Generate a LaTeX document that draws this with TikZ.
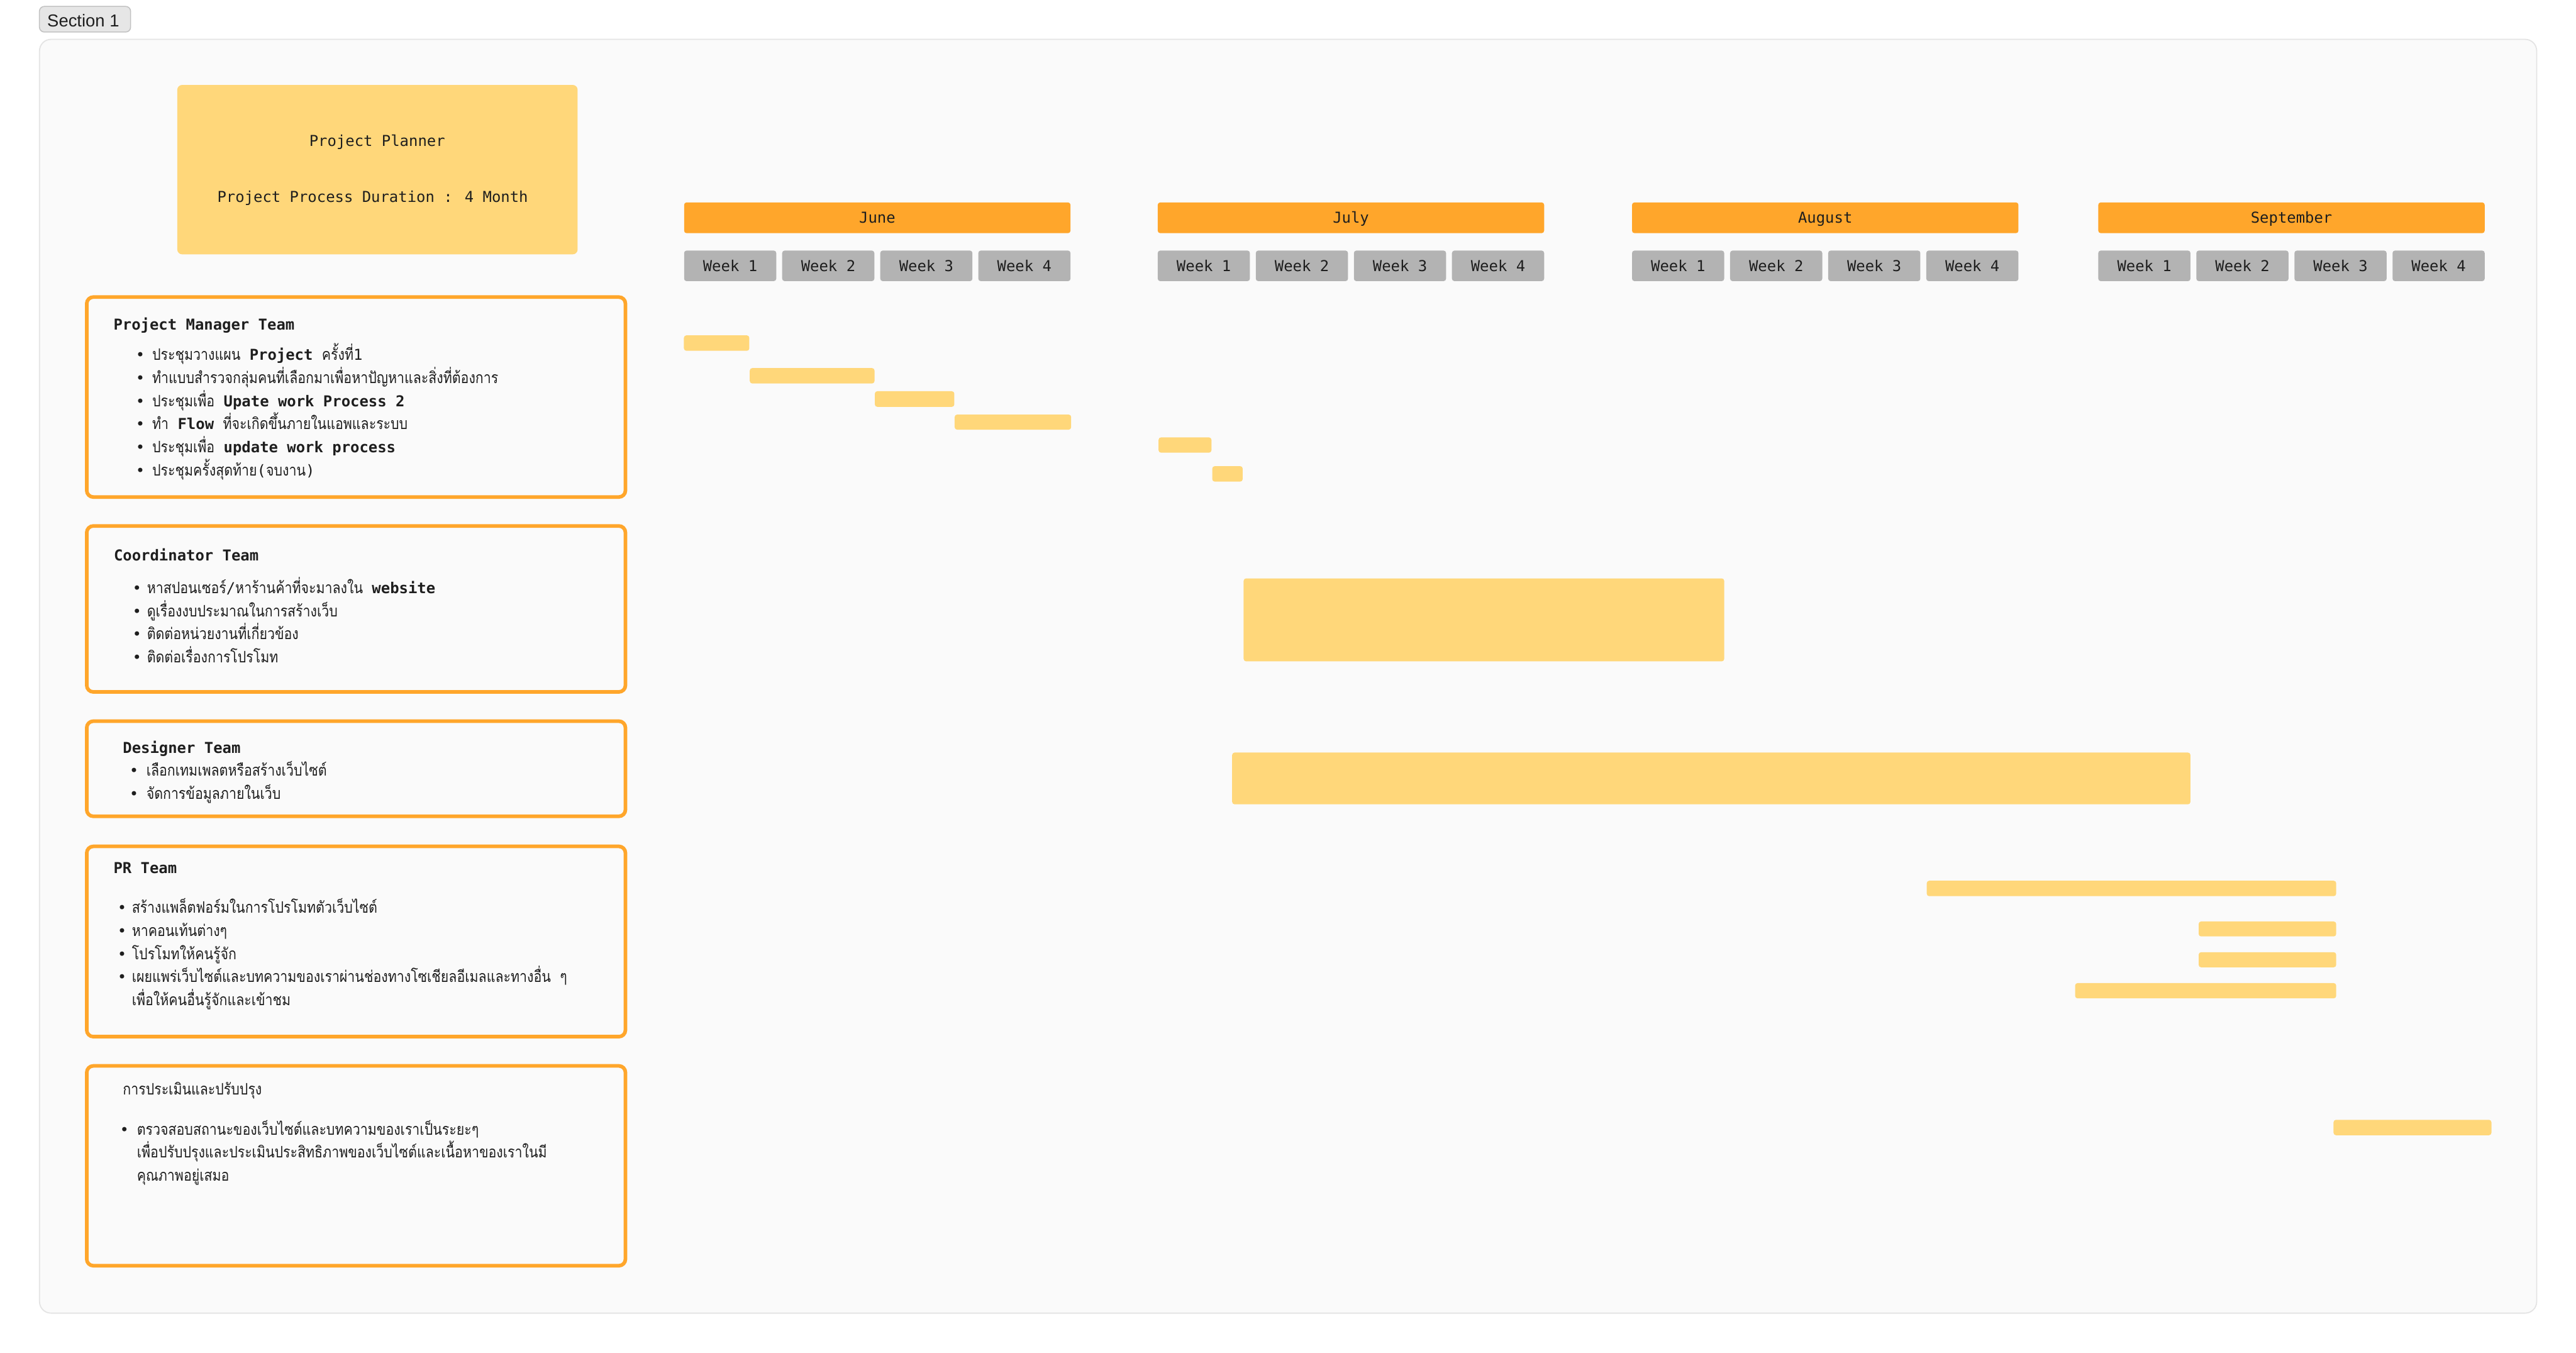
\documentclass[tikz,border=0pt]{standalone}
\usepackage{fontspec}
\setmainfont{DejaVu Sans Mono}
\newfontfamily\thaifont[Script=Thai,Scale=1.05,FakeStretch=0.85]{Loma}
\newfontfamily\tagfont{Liberation Sans}
\newcommand\thtxt[1]{{\thaifont #1}}
\definecolor{ink}{HTML}{1E1E1E}
\definecolor{hdr}{HTML}{FFA62B}
\definecolor{barc}{HTML}{FFD77A}
\definecolor{wk}{HTML}{B3B3B3}
\definecolor{bgc}{HTML}{FAFAFA}
\definecolor{frameline}{HTML}{E4E4E4}
\definecolor{tagfill}{HTML}{E6E6E6}
\definecolor{tagline}{HTML}{C2C2C2}
% one bullet line: name, bullet x, text x, baseline y, text
\newcommand\bitem[5]{%
  \node[dot] (#1-b) at (#2,#4) {•};
  \node[txt] (#1) at (#3,#4) {#5};}
\begin{document}
\begin{tikzpicture}[x=1pt,y=-1pt,
  font=\fontsize{9.15}{11}\selectfont,
  txt/.style={anchor=base west,inner sep=0,text=ink},
  ctxt/.style={anchor=base,inner sep=0,text=ink},
  dot/.style={anchor=base,inner sep=0,text=ink},
  tagbox/.style={draw=tagline,fill=tagfill,line width=0.6pt,rounded corners=3pt,
    minimum width=55.5pt,minimum height=15.6pt,inner sep=0},
  framebox/.style={draw=frameline,fill=bgc,line width=0.7pt,rounded corners=7pt,
    minimum width=1520pt,minimum height=775.2pt,inner sep=0},
  planbox/.style={fill=barc,rounded corners=3pt,minimum width=243.7pt,
    minimum height=103.1pt,inner sep=0},
  teambox/.style={draw=hdr,line width=2.2pt,rounded corners=4pt,
    minimum width=327.9pt,inner sep=0},
  month/.style={fill=hdr,rounded corners=1.5pt,minimum width=235.2pt,
    minimum height=18.7pt,inner sep=0,text=ink,text height=6.6pt,text depth=0pt},
  week/.style={fill=wk,rounded corners=1.5pt,minimum width=56.1pt,
    minimum height=18.6pt,inner sep=0,text=ink,text height=6.6pt,text depth=0pt},
  taskbar/.style={fill=barc,rounded corners=1.5pt}]

\useasboundingbox (0,0) rectangle (1568,823.4);

% section tag and panel
\node[tagbox] (tag) at (51.75,11.7) {};
\node[txt,font=\tagfont\fontsize{10.5}{12}\selectfont] (tagtext) at (28.6,16.3) {Section 1};
\node[framebox] (frame) at (784.05,411.55) {};

% planner card
\node[planbox] (plan) at (229.75,103.25) {};
\node[ctxt] (plantitle) at (229.6,88.9) {Project Planner};
\node[txt] (plandur) at (132.1,122.9) {Project Process Duration : 4 Month};

% month headers and weeks
\foreach \m/\lab [count=\i] in {416.4/June,704.7/July,993.4/August,1277.2/September}{
  \node[month] (m\i) at (\m+117.6,132.55) {\lab};
  \foreach \w in {1,2,3,4}{
    \node[week] (m\i w\w) at (\m+28.05+59.7*\w-59.7,161.8) {Week \w};
  }
}

% team cards
\node[teambox,minimum height=121.7pt] (pm) at (216.75,241.65) {};
\node[teambox,minimum height=101pt] (co) at (216.75,370.6) {};
\node[teambox,minimum height=57.9pt] (de) at (216.75,467.85) {};
\node[teambox,minimum height=115.8pt] (pr) at (216.75,573) {};
\node[teambox,minimum height=121.6pt] (ev) at (216.75,709.5) {};

% project manager team
\node[txt] (pmt) at (68.9,200.6) {\textbf{Project Manager Team}};
\bitem{pm1}{85.4}{92.5}{219.2}{\thtxt{ประชุมวางแผน} \textbf{Project} \thtxt{ครั้งที่}1}
\bitem{pm2}{85.4}{92.5}{233.3}{\thtxt{ทำแบบสำรวจกลุ่มคนที่เลือกมาเพื่อหาปัญหาและสิ่งที่ต้องการ}}
\bitem{pm3}{85.4}{92.5}{247.3}{\thtxt{ประชุมเพื่อ} \textbf{Upate work Process 2}}
\bitem{pm4}{85.4}{92.5}{261.4}{\thtxt{ทำ} \textbf{Flow} \thtxt{ที่จะเกิดขึ้นภายในแอพและระบบ}}
\bitem{pm5}{85.4}{92.5}{275.4}{\thtxt{ประชุมเพื่อ} \textbf{update work process}}
\bitem{pm6}{85.4}{92.5}{289.5}{\thtxt{ประชุมครั้งสุดท้าย}(\thtxt{จบงาน})}

% coordinator team
\node[txt] (cot) at (69.1,341.4) {\textbf{Coordinator Team}};
\bitem{co1}{83.4}{89.3}{361.2}{\thtxt{หาสปอนเซอร์}/\thtxt{หาร้านค้าที่จะมาลงใน} \textbf{website}}
\bitem{co2}{83.4}{89.3}{375.2}{\thtxt{ดูเรื่องงบประมาณในการสร้างเว็บ}}
\bitem{co3}{83.4}{89.3}{389.2}{\thtxt{ติดต่อหน่วยงานที่เกี่ยวข้อง}}
\bitem{co4}{83.4}{89.3}{403.3}{\thtxt{ติดต่อเรื่องการโปรโมท}}

% designer team
\node[txt] (det) at (74.6,458.5) {\textbf{Designer Team}};
\bitem{de1}{81.6}{88.9}{472.1}{\thtxt{เลือกเทมเพลตหรือสร้างเว็บไซต์}}
\bitem{de2}{81.6}{88.9}{486.3}{\thtxt{จัดการข้อมูลภายในเว็บ}}

% PR team
\node[txt] (prt) at (68.9,531.5) {\textbf{PR Team}};
\bitem{pr1}{74.3}{80.1}{555.8}{\thtxt{สร้างแพล็ตฟอร์มในการโปรโมทตัวเว็บไซต์}}
\bitem{pr2}{74.3}{80.1}{569.8}{\thtxt{หาคอนเท้นต่างๆ}}
\bitem{pr3}{74.3}{80.1}{583.9}{\thtxt{โปรโมทให้คนรู้จัก}}
\bitem{pr4}{74.3}{80.1}{597.9}{\thtxt{เผยแพร่เว็บไซต์และบทความของเราผ่านช่องทางโซเชียลอีเมลและทางอื่น} \thtxt{ๆ}}
\node[txt] (pr5) at (80.1,611.9) {\thtxt{เพื่อให้คนอื่นรู้จักและเข้าชม}};

% evaluation
\node[txt] (evt) at (74.6,666.2) {\thtxt{การประเมินและปรับปรุง}};
\bitem{ev1}{75.7}{83.2}{690.7}{\thtxt{ตรวจสอบสถานะของเว็บไซต์และบทความของเราเป็นระยะๆ}}
\node[txt] (ev2) at (83.2,704.7) {\thtxt{เพื่อปรับปรุงและประเมินประสิทธิภาพของเว็บไซต์และเนื้อหาของเราในมี}};
\node[txt] (ev3) at (83.2,718.7) {\thtxt{คุณภาพอยู่เสมอ}};

% task bars
\foreach \xa/\ya/\xb/\yb in {
  416.3/204.1/456.1/213.5, 456.4/224/532.3/233.4, 532.5/238.1/580.9/247.6,
  581.1/252.3/652/261.5, 705.2/266.2/737.4/275.5, 737.9/283.7/756.4/293.1,
  757/352/1049.5/402.5, 750/458/1333.3/489.5,
  1172.8/536/1422/545.4, 1338.3/560.8/1422/569.9, 1338.3/579.5/1422/588.7,
  1263.1/598.3/1422/607.6, 1420.4/681.5/1516.5/690.9}{
  \path[taskbar] (\xa,\ya) rectangle (\xb,\yb);
}
\end{tikzpicture}
\end{document}
